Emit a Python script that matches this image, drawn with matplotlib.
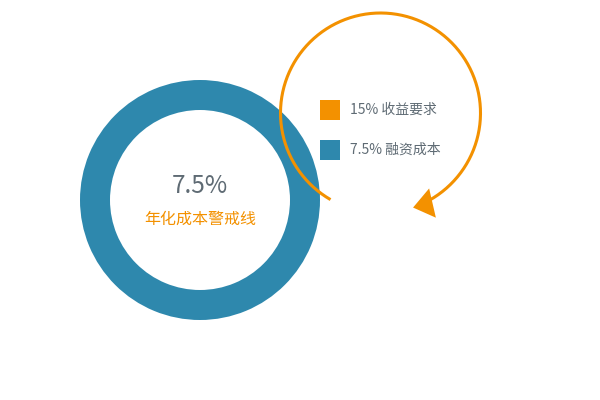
import numpy as np
import matplotlib
matplotlib.use("Agg")
import matplotlib.pyplot as plt
from matplotlib.patches import Rectangle, Polygon

plt.rcParams['font.family'] = ['Noto Sans CJK SC', 'DejaVu Sans']

# dati
legend_labels = ["15% 收益要求", "7.5% 融资成本"]
legend_colors = ["#f39100", "#2e88ad"]
ring_value = [7.5]
center_value = "7.5%"
center_caption = "年化成本警戒线"

orange = "#f39100"
blue = "#2e88ad"
grey = "#5f6b74"

fig = plt.figure(figsize=(6, 4), dpi=100)
ax = fig.add_axes([0, 0, 1, 1])

# anello (ciambella)
ax.pie(ring_value, colors=[blue], radius=120, center=(200, 200),
       wedgeprops=dict(width=30, linewidth=0), startangle=90)

# freccia circolare
cx, cy, r = 380.5, 113, 100
theta = np.radians(np.linspace(240, -60, 400))
ax.plot(cx + r * np.cos(theta), cy - r * np.sin(theta), color=orange, lw=2.2,
        solid_capstyle='butt', zorder=5)

# punta della freccia: base a -60 gradi, punta sul cerchio a -71 gradi
a_base, a_tip = np.radians(-60), np.radians(-71)
base = np.array([cx + 104 * np.cos(a_base), cy - 104 * np.sin(a_base)])
tip = np.array([cx + r * np.cos(a_tip), cy - r * np.sin(a_tip)])
d = (tip - base) / np.linalg.norm(tip - base)
perp = np.array([-d[1], d[0]]) * 15
ax.add_patch(Polygon([tip, base + perp, base - perp], closed=True,
                     facecolor=orange, edgecolor='none', zorder=6))

# legenda
for i, (lab, col) in enumerate(zip(legend_labels, legend_colors)):
    y = 110 + 40 * i
    ax.add_patch(Rectangle((320, y - 10), 20, 20, facecolor=col, edgecolor='none', zorder=7))
    ax.text(350, y, lab, fontsize=10, color=grey, va='center', ha='left', zorder=7)

# testo centrale
ax.text(200, 186, center_value, fontsize=17.5, color=grey, ha='center', va='center')
ax.text(200, 219, center_caption, fontsize=11.5, color=orange, ha='center', va='center')

ax.set_xlim(0, 600)
ax.set_ylim(400, 0)
ax.set_aspect('equal')
ax.axis('off')

fig.savefig("out.png", dpi=100)
